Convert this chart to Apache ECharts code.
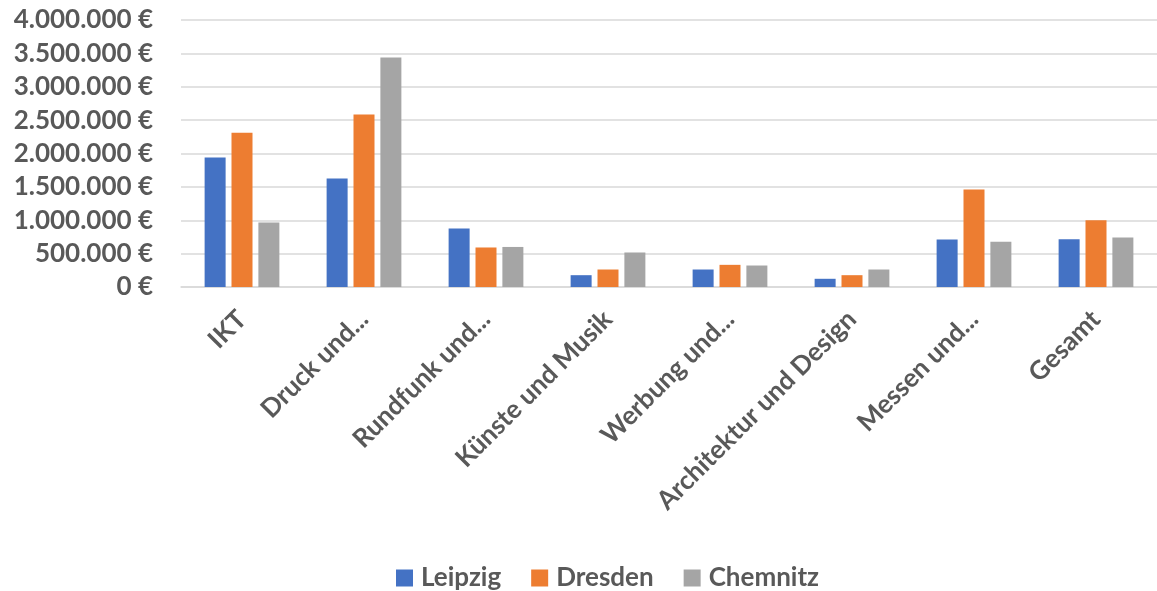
<!DOCTYPE html>
<html>
<head>
<meta charset="utf-8">
<script src="https://cdn.jsdelivr.net/npm/echarts@6/dist/echarts.min.js"></script>
<style>html,body{margin:0;padding:0;background:#fff}#c{width:1157px;height:591px}</style>
</head>
<body>
<div id="c"></div>
<script>
const categories = ["IKT", "Druck und...", "Rundfunk und...", "Künste und Musik", "Werbung und...", "Architektur und Design", "Messen und...", "Gesamt"];
const leipzig = [1940000, 1625000, 876000, 177000, 262000, 123000, 712000, 716000];
const dresden = [2310000, 2584000, 592000, 262000, 332000, 177000, 1460000, 1000000];
const chemnitz = [966000, 3438000, 600000, 517000, 322000, 262000, 677000, 742000];
const seriesNames = ["Leipzig", "Dresden", "Chemnitz"];
const colors = ["#4472C4", "#ED7D31", "#A5A5A5"];

const font = "Lato, 'Open Sans', sans-serif";
function fmt(v) {
  return String(Math.round(v)).replace(/\B(?=(\d{3})+(?!\d))/g, ".") + " €";
}
const chart = echarts.init(document.getElementById('c'));
const data = [leipzig, dresden, chemnitz];
chart.setOption({
  animation: false,
  color: colors,
  grid: { left: 181, top: 20, width: 987, height: 267, containLabel: false },
  legend: {
    top: 560, left: 391, itemWidth: 17, itemHeight: 17, itemGap: 30,
    icon: 'rect',
    textStyle: { fontFamily: font, fontWeight: 'bold', fontSize: 26, color: '#595959', padding: [0, 0, 0, 3] },
    data: seriesNames
  },
  xAxis: {
    type: 'category', data: categories,
    axisLine: { lineStyle: { color: '#D9D9D9', width: 1.5 } },
    axisTick: { show: false },
    axisLabel: { interval: 0, rotate: 45, margin: 28, fontFamily: font, fontWeight: 'bold', fontSize: 26, color: '#595959' }
  },
  yAxis: {
    type: 'value', min: 0, max: 4000000, interval: 500000,
    axisLine: { show: false }, axisTick: { show: false },
    splitLine: { lineStyle: { color: '#D9D9D9', width: 1.5 } },
    axisLabel: { formatter: fmt, margin: 28, fontFamily: font, fontWeight: 'bold', fontSize: 26, color: '#595959' }
  },
  series: seriesNames.map((n, i) => ({
    name: n, type: 'bar', data: data[i], barWidth: 21, barGap: '28%'
  }))
});
</script>
</body>
</html>
